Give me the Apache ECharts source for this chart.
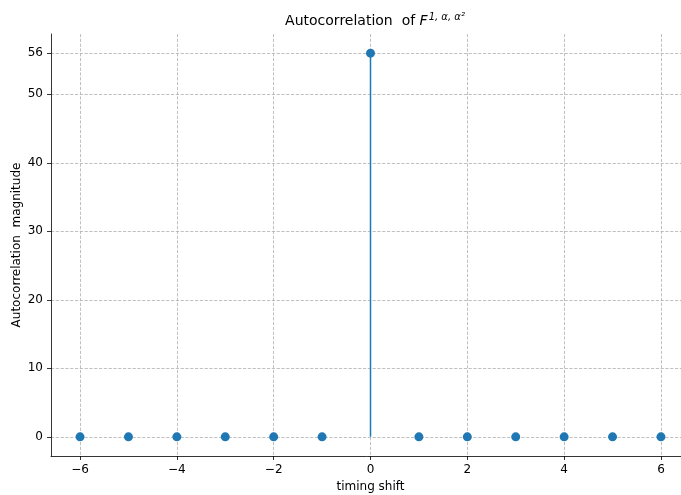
<!DOCTYPE html>
<html><head><meta charset="utf-8">
<script src="https://cdn.jsdelivr.net/npm/echarts@6/dist/echarts.min.js"></script>
<style>html,body{margin:0;padding:0;background:#fff;overflow:hidden}#c{width:681px;height:495px}</style>
</head><body><div id="c"></div>
<script>
const shifts = [-6,-5,-4,-3,-2,-1,0,1,2,3,4,5,6];
const magnitudes = [0,0,0,0,0,0,56,0,0,0,0,0,0];
const xTicks = [-6,-4,-2,0,2,4,6];
const yTicks = [0,10,20,30,40,50,56];

const C = '#1f77b4';
const font = 'DejaVu Sans';
const pts = shifts.map((x,i)=>[x, magnitudes[i]]);
const chart = echarts.init(document.getElementById('c'), null, {renderer:'canvas', width:681, height:495});
const fmt = v => (v<0 ? '\u2212' + Math.abs(v) : String(v));
const grid = {type:'dashed', color:'#b0b0b0', width:0.8};
chart.setOption({
  animation:false,
  backgroundColor:'#fff',
  title:{
    text:'{n|Autocorrelation  of }{f|F}{s|1, α, α²}',
    left:370, top:7, textAlign:'center',
    textStyle:{fontWeight:'normal', rich:{
      n:{fontFamily:font, fontSize:14, fontWeight:'normal', color:'#000'},
      f:{fontFamily:font, fontSize:14, fontWeight:'normal', fontStyle:'italic', color:'#000'},
      s:{fontFamily:font, fontSize:10, fontWeight:'normal', fontStyle:'italic', color:'#000', verticalAlign:'top', padding:[0,0,8,1]}
    }}
  },
  grid:{left:51, right:-9, top:34, bottom:39, containLabel:false, outerBoundsMode:'none'},
  xAxis:{
    type:'value', min:-6.6, max:6.6,
    name:'timing shift', nameLocation:'middle', nameGap:25, nameMoveOverlap:false,
    nameTextStyle:{fontFamily:font, fontSize:12, color:'#000'},
    axisLine:{show:true, onZero:false, lineStyle:{color:'#000', width:0.8}},
    axisTick:{show:true, length:4, customValues:xTicks, lineStyle:{color:'#000', width:0.8}},
    axisLabel:{customValues:xTicks, formatter:fmt, fontFamily:font, fontSize:12, color:'#000', margin:8},
    splitLine:{show:true, lineStyle:grid}
  },
  yAxis:{
    type:'value', min:-2.8, max:58.8,
    name:'Autocorrelation  magnitude', nameLocation:'middle', nameGap:28, nameRotate:90, nameMoveOverlap:false,
    nameTextStyle:{fontFamily:font, fontSize:12, color:'#000'},
    axisLine:{show:true, onZero:false, lineStyle:{color:'#000', width:0.8}},
    axisTick:{show:true, length:4, customValues:yTicks, lineStyle:{color:'#000', width:0.8}},
    axisLabel:{customValues:yTicks, formatter:fmt, fontFamily:font, fontSize:12, color:'#000', margin:8},
    splitLine:{show:true, lineStyle:grid}
  },
  series:[
    {
      type:'custom', clip:true, z:2,
      renderItem:(params, api) => {
        const x = api.value(0), y = api.value(1);
        const a = api.coord([x, 0]), b = api.coord([x, y]);
        return {type:'line', shape:{x1:a[0], y1:a[1], x2:b[0], y2:b[1]}, style:{stroke:C, lineWidth:1.5}};
      },
      encode:{x:0, y:1},
      data:pts
    },
    {
      type:'scatter', z:3, symbol:'circle', symbolSize:9,
      itemStyle:{color:C, opacity:1},
      data:pts
    }
  ]
});
</script></body></html>
